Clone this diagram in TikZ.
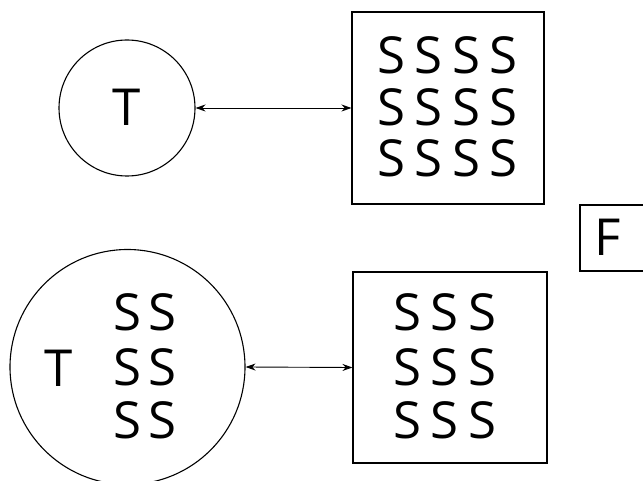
\documentclass[tikz,border=0pt]{standalone}
\usepackage{fontspec}
\setmainfont{Open Sans}
\usetikzlibrary{arrows.meta}
\begin{document}
\begin{tikzpicture}[x=1pt,y=-1pt,
  lbl/.style={inner sep=0pt,font=\fontsize{51}{51}\selectfont},
  ring/.style={draw,line width=1.1pt,circle,inner sep=0pt},
  frame/.style={draw,line width=1.1pt,rectangle,inner sep=0pt},
  link/.style={line width=0.9pt,{Stealth[length=10pt,width=7pt]}-{Stealth[length=10pt,width=7pt]}}]
\useasboundingbox (0,0) rectangle (643,481);
\clip (0,0) rectangle (643,481);
% top row
\node[ring,minimum size=136pt] (tc) at (127,108) {};
\node[lbl] (tT) at (127,107) {T};
\node[frame,minimum width=192pt,minimum height=192pt] (tb) at (448,108) {};
\foreach \r/\y in {1/55,2/107,3/158}{
  \foreach \c/\x in {1/391,2/428.5,3/466,4/503.5}{
    \node[lbl] (ts\r\c) at (\x,\y) {S};
  }
}
\draw[link] (tc.east) -- (tb.west);
% F box
\node[frame,minimum width=80pt,minimum height=66pt] (fb) at (620,238) {};
\node[lbl] (fF) at (608,237) {F};
% bottom row
\node[ring,minimum size=235pt] (bc) at (127.5,367) {};
\node[lbl] (bT) at (59,368) {T};
\foreach \r/\y in {1/312,2/367,3/420}{
  \foreach \c/\x in {1/127,2/162}{
    \node[lbl] (bs\r\c) at (\x,\y) {S};
  }
}
\node[frame,minimum width=194pt,minimum height=191pt] (bb) at (450,367.5) {};
\foreach \r/\y in {1/312,2/367,3/420}{
  \foreach \c/\x in {1/407,2/444.5,3/482}{
    \node[lbl] (bbs\r\c) at (\x,\y) {S};
  }
}
\draw[link] (bc.east) -- (bb.west);
\end{tikzpicture}
\end{document}
